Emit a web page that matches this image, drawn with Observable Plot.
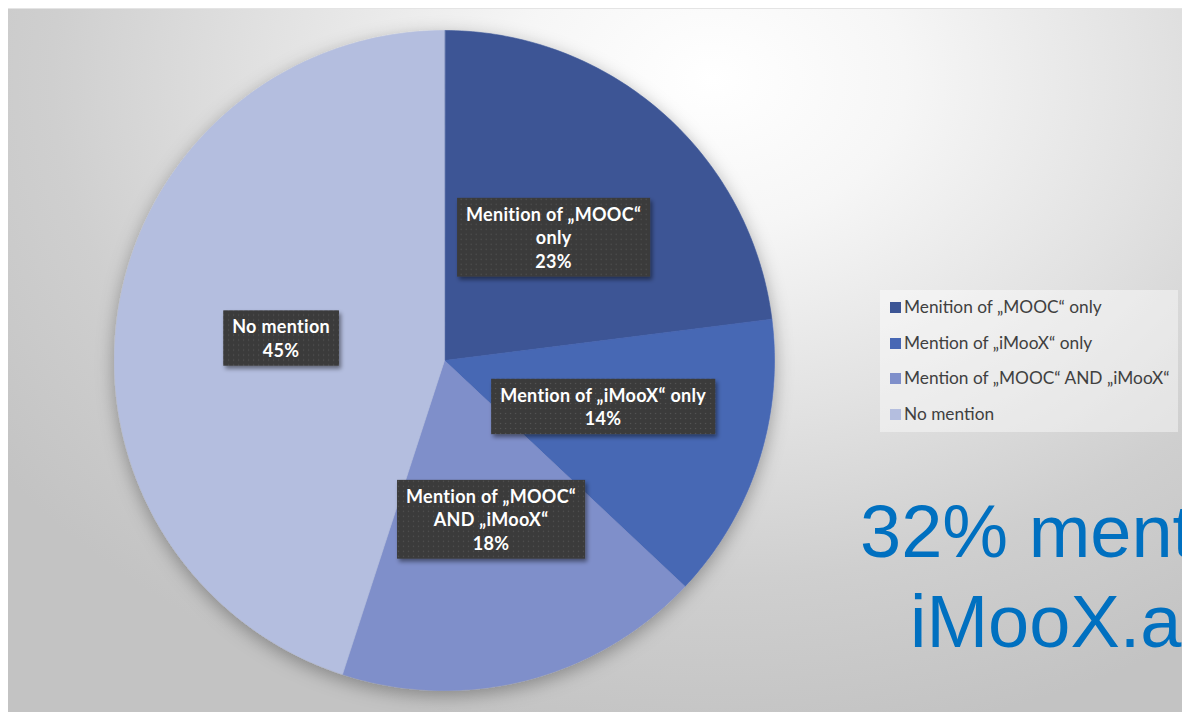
<!DOCTYPE html>
<html>
<head>
<meta charset="utf-8">
<script src="https://cdn.jsdelivr.net/npm/d3@7"></script>
<script src="https://cdn.jsdelivr.net/npm/@observablehq/plot@0.6"></script>
<style>
  html, body { margin: 0; padding: 0; background: #ffffff; }
  #page { position: relative; width: 1182px; height: 712px; overflow: hidden; background: #ffffff; }
  #panel { position: absolute; left: 8px; top: 8px; right: 0; bottom: 0;
    background: radial-gradient(ellipse 75% 95% at 60% 10%, #ffffff 0%, #f6f6f6 22%, #e2e2e2 50%, #cfcfcf 75%, #c3c3c3 100%);
    border-top: 1px solid #e4e4e4; }
  #chart { position: absolute; left: 0; top: 0; }
  #legend { position: absolute; left: 880px; top: 290px; width: 298px; height: 142px;
    background: rgba(255,255,255,0.42); font-family: Lato, "Open Sans", sans-serif; font-size: 17.3px; color: #404040; }
  .li { position: absolute; left: 10px; height: 20px; line-height: 20px; white-space: nowrap; }
  .sw { display: inline-block; width: 11px; height: 11px; margin-right: 3px; vertical-align: -0px; }
  .big { position: absolute; font-family: "Liberation Sans", Arial, sans-serif; font-size: 74px; line-height: 74px;
    color: #0070C0; white-space: nowrap; }
</style>
</head>
<body>
<div id="page">
  <div id="panel"></div>
  <div id="chart"></div>
  <div id="legend"></div>
  <div class="big" style="left:860px; top:495px;">32% mention</div>
  <div class="big" style="left:910px; top:585px;">iMooX.at</div>
</div>
<script>
// ---- data ----
const categories = ["Menition of „MOOC“ only", "Mention of „iMooX“ only", "Mention of „MOOC“ AND „iMooX“", "No mention"];
const values = [23, 14, 18, 45];
const labelTexts = ["Menition of „MOOC“\nonly", "Mention of „iMooX“ only", "Mention of „MOOC“\nAND „iMooX“", "No mention"];
const colors = ["#3c5595", "#4767b4", "#7f8fca", "#b4bedf"];

// ---- layout (label placement nudges, degrees) ----
const labelNudge = [0, -2, -2, -1];
const labelRadius = 0.5;

const arcs = d3.pie().sort(null).value(d => d)(values);
const slicePts = arcs.flatMap((a, i) => {
  const pts = [{cat: categories[i], x: 0, y: 0}];
  const n = Math.ceil((a.endAngle - a.startAngle) * 180 / Math.PI) + 1;
  for (let k = 0; k <= n; k++) {
    const t = a.startAngle + (a.endAngle - a.startAngle) * k / n;
    pts.push({cat: categories[i], x: Math.sin(t), y: Math.cos(t)});
  }
  return pts;
});
const labels = arcs.map((a, i) => {
  const t = (a.startAngle + a.endAngle) / 2 + labelNudge[i] * Math.PI / 180;
  return {x: labelRadius * Math.sin(t), y: labelRadius * Math.cos(t), text: labelTexts[i] + "\n" + values[i] + "%"};
});

const plot = Plot.plot({
  width: 1182, height: 712, margin: 0,
  x: {domain: [-1, 1], range: [114, 774], axis: null},
  y: {domain: [-1, 1], range: [690, 30], axis: null},
  color: {domain: categories, range: colors},
  style: {background: "transparent", overflow: "visible"},
  marks: [
    Plot.line(slicePts, {x: "x", y: "y", z: "cat", fill: "cat", stroke: "cat", strokeWidth: 0.6, curve: "linear-closed"}),
    Plot.text(labels, {x: "x", y: "y", text: "text", fill: "white", fontWeight: "bold", fontSize: 18,
      lineHeight: 1.3, fontFamily: "Lato, 'Open Sans', sans-serif"})
  ]
});
document.getElementById("chart").appendChild(plot);

// defs: shadows + dotted pattern
const ns = "http://www.w3.org/2000/svg";
const defs = document.createElementNS(ns, "defs");
defs.innerHTML = `
  <filter id="pieShadow" x="-20%" y="-20%" width="140%" height="140%">
    <feDropShadow dx="0" dy="5" stdDeviation="9" flood-color="#000" flood-opacity="0.32"/>
  </filter>
  <filter id="boxShadow" x="-20%" y="-20%" width="140%" height="150%">
    <feDropShadow dx="2" dy="3" stdDeviation="2" flood-color="#000" flood-opacity="0.45"/>
  </filter>
  <pattern id="dots" width="5" height="5" patternUnits="userSpaceOnUse">
    <rect width="5" height="5" fill="#3a3a3a"/>
    <circle cx="2.5" cy="2.5" r="0.7" fill="#555555"/>
  </pattern>`;
plot.insertBefore(defs, plot.firstChild);
const lineG = plot.querySelector('g[aria-label="line"]');
if (lineG) lineG.setAttribute("filter", "url(#pieShadow)");
const textG = plot.querySelector('g[aria-label="text"]');
if (textG) {
  textG.querySelectorAll("text").forEach(t => {
    t.style.letterSpacing = "0.3px";
    const b = t.getBBox();
    const r = document.createElementNS(ns, "rect");
    const px = 9, py = 5;
    r.setAttribute("x", b.x - px); r.setAttribute("y", b.y - py);
    r.setAttribute("width", b.width + 2 * px); r.setAttribute("height", b.height + 2 * py);
    const tr = t.getAttribute("transform");
    if (tr) r.setAttribute("transform", tr);
    r.setAttribute("fill", "url(#dots)"); r.setAttribute("filter", "url(#boxShadow)");
    t.parentNode.insertBefore(r, t);
  });
}

// legend
const leg = document.getElementById("legend");
categories.forEach((c, i) => {
  const d = document.createElement("div");
  d.className = "li";
  d.style.top = (7 + i * 35.5) + "px";
  d.innerHTML = `<span class="sw" style="background:${colors[i]}"></span>${c}`;
  leg.appendChild(d);
});
</script>
</body>
</html>
